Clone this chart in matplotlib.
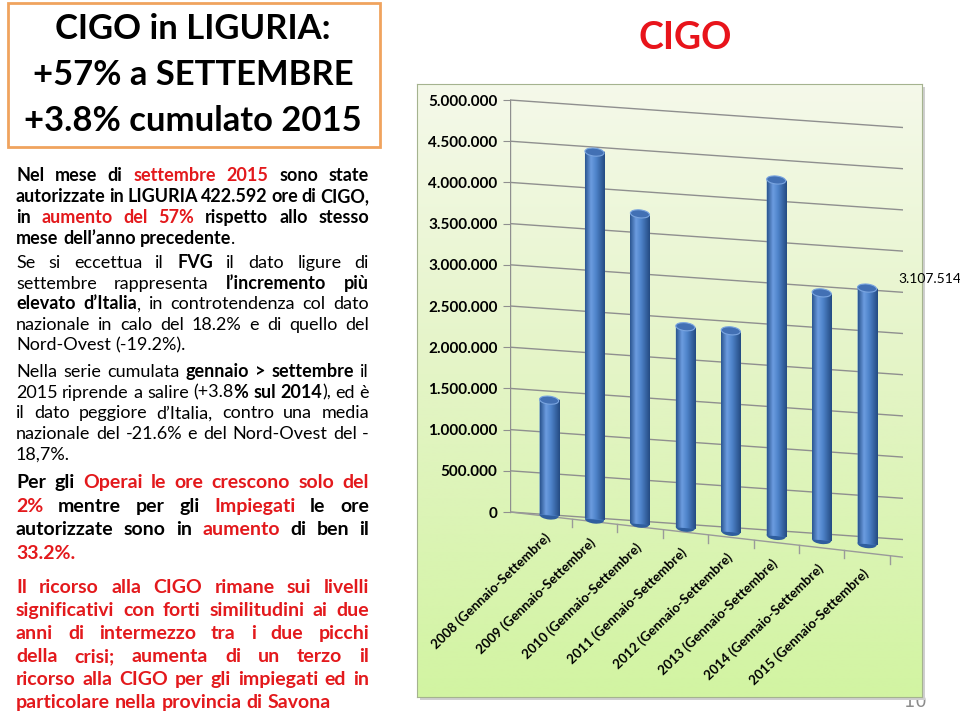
import re
import numpy as np
import matplotlib
matplotlib.use('Agg')
import matplotlib.pyplot as plt
from matplotlib.colors import LinearSegmentedColormap
from matplotlib.patches import Rectangle, Ellipse
from matplotlib.transforms import Affine2D
from matplotlib.ticker import FuncFormatter

FONT = 'Lato'
RED = '#e3191c'

# data (ore CIGO autorizzate, gennaio-settembre)
anni = ['2008', '2009', '2010', '2011', '2012', '2013', '2014', '2015']
categorie = [a + ' (Gennaio-Settembre)' for a in anni]
ore_cigo = [1400000, 4460000, 3760000, 2440000, 2440000, 4320000, 3000000, 3107514]
ytick_vals = list(range(0, 5000001, 500000))

titolo = ['CIGO in LIGURIA:', '+57% a SETTEMBRE', '+3.8% cumulato 2015']

# <b> bold, <r> red ; state carries across the lines of a paragraph
par1 = ['<b>Nel mese di <r>settembre 2015</r> sono state',
        'autorizzate in LIGURIA 422.592 ore di CIGO,',
        'in <r>aumento del 57%</r> rispetto allo stesso',
        'mese dell\u2019anno precedente</b>.']
par2 = ['Se si eccettua il <b>FVG</b> il dato ligure di',
        'settembre rappresenta <b>l\u2019incremento più',
        'elevato d\u2019Italia</b>, in controtendenza col dato',
        'nazionale in calo del 18.2% e di quello del',
        'Nord-Ovest (-19.2%).']
par3 = ['Nella serie cumulata <b>gennaio > settembre</b> il',
        '2015 riprende a salire (+3.8<b>% sul 2014</b>), ed è',
        'il dato peggiore d\u2019Italia, contro una media',
        'nazionale del -21.6% e del Nord-Ovest del -',
        '18,7%.']
par4 = ['<b>Per gli <r>Operai le ore crescono solo del',
        '2%</r> mentre per gli <r>Impiegati</r> le ore',
        'autorizzate sono in <r>aumento</r> di ben il',
        '<r>33.2%.</r>']
par5 = ['<b><r>Il ricorso alla CIGO rimane sui livelli',
        'significativi con forti similitudini ai due',
        'anni di intermezzo tra i due picchi',
        'della crisi; aumenta di un terzo il',
        'ricorso alla CIGO per gli impiegati ed in',
        'particolare nella provincia di Savona']

W, H = 960, 713
fig = plt.figure(figsize=(W / 100, H / 100), dpi=100)
renderer = fig.canvas.get_renderer()


def fx(x):
    return x / W


def fy(y):
    return 1 - y / H


def text_w(s, size, bold):
    t = fig.text(0, 0, s, fontsize=size, fontweight='bold' if bold else 'normal', family=FONT)
    w = t.get_window_extent(renderer).width
    t.remove()
    return w


def parse(lines):
    bold, red = False, False
    out = []
    for line in lines:
        words = [[]]
        for part in re.split(r'(</?[br]>)', line):
            if part in ('<b>', '</b>'):
                bold = part == '<b>'
                continue
            if part in ('<r>', '</r>'):
                red = part == '<r>'
                continue
            for j, p in enumerate(part.split(' ')):
                if j > 0:
                    words.append([])
                if p:
                    words[-1].append((p, bold, red))
        out.append([w for w in words if w])
    return out


# justified paragraph; spaces may shrink a bit so the font can stay near the target size
def paragrafo(lines, y0, step, target, x0=16, x1=369):
    righe = parse(lines)
    width = x1 - x0
    sp10 = text_w('a a', 10, False) - text_w('aa', 10, False)
    need = max(sum(text_w(s, 10, b) for w in ws for s, b, r in w) + 0.65 * sp10 * (len(ws) - 1)
               for ws in righe[:-1])
    size = min(target, 10 * width / need)
    sp = sp10 * size / 10
    for i, ws in enumerate(righe):
        wl = [[text_w(s, size, b) for s, b, r in w] for w in ws]
        tot = sum(sum(a) for a in wl)
        gap = sp if i == len(righe) - 1 else (width - tot) / (len(ws) - 1)
        x = x0
        y = y0 + i * step
        for w, ww in zip(ws, wl):
            for (s, b, r), sw in zip(w, ww):
                fig.text(fx(x), fy(y), s, fontsize=size, fontweight='bold' if b else 'normal',
                         color=RED if r else 'black', family=FONT, va='baseline', ha='left')
                x += sw
            x += gap


# ---- left side: title box and text
fig.patches.append(Rectangle((fx(8), fy(147)), 372 / W, 144 / H, transform=fig.transFigure,
                             fill=False, ec='#f0a35e', lw=2))
tsize = 10 * 338 / max(text_w(t, 10, True) for t in titolo)
for i, t in enumerate(titolo):
    fig.text(fx(193), fy(39 + i * 45.8), t, fontsize=tsize, fontweight='bold', family=FONT,
             ha='center', va='baseline')

paragrafo(par1, 181, 21, 13)
paragrafo(par2, 268, 20.6, 13)
paragrafo(par3, 377, 20.6, 13)
paragrafo(par4, 488, 23.6, 14)
paragrafo(par5, 593, 23, 14)

# ---- right side: chart
fig.text(fx(685), fy(49), 'CIGO', fontsize=27, fontweight='bold', color='#e8141b',
         family=FONT, ha='center', va='baseline')
fig.text(fx(915), fy(707), '10', fontsize=13, color='#8c8c8c', ha='center', va='baseline',
         zorder=-3)

fig.patches.append(Rectangle((fx(420), fy(700)), 505 / W, 613 / H, transform=fig.transFigure,
                             fc='#cfcfcf', ec='none', zorder=-2))
bg = fig.add_axes([fx(417), fy(697), 505 / W, 613 / H], zorder=-1)
green = LinearSegmentedColormap.from_list('g', ['#f5f9ea', '#e3f4c4', '#d2f4a2'])
bg.imshow(np.linspace(0, 1, 256).reshape(-1, 1), cmap=green, aspect='auto', extent=[0, 1, 0, 1])
bg.set_xticks([])
bg.set_yticks([])
for s in bg.spines.values():
    s.set_color('#a5b38f')

PX0, PX5 = 512, 100          # pixel rows of 0 and 5.000.000
AX_TOP, AX_BOT = 90, 585
AX_L, AX_R = 510, 903
upp = 5e6 / (PX0 - PX5)
ax = fig.add_axes([fx(AX_L), fy(AX_BOT), (AX_R - AX_L) / W, (AX_BOT - AX_TOP) / H])
ax.patch.set_alpha(0)
ax.autoscale(False)
xmin, xmax = -0.86, 7.79
ax.set_xlim(xmin, xmax)
ax.set_ylim(-(AX_BOT - PX0) * upp, 5e6 + (PX5 - AX_TOP) * upp)
for s in ax.spines.values():
    s.set_visible(False)


# fake perspective: things shift down to the right
def skew(k):
    m = np.array([[1, 0, 0], [-k, 1, k * AX_L], [0, 0, 1]], dtype=float)
    return ax.transData + Affine2D(m)


t_grid, t_bar, t_lab = skew(0.07), skew(0.09), skew(0.115)

for v in ytick_vals:
    ax.plot([xmin, xmax], [v, v], color='#8f8f8f', lw=1, transform=t_grid, zorder=1)
ax.plot([xmin, xmin], [0, 5e6], color='#8f8f8f', lw=1, zorder=1)
# floor front edge and ticks
ax.plot([xmin, xmax, xmax], [0, 0, 0], color='#9a9a9a', lw=1, transform=t_lab, zorder=1)
for i in range(len(anni)):
    ax.plot([i + 0.5, i + 0.5], [0, -8 * upp], color='#9a9a9a', lw=1, transform=t_lab, zorder=1)

ax.set_yticks(ytick_vals)
ax.yaxis.set_major_formatter(FuncFormatter(lambda v, p: f'{int(v):,}'.replace(',', '.')))
ax.tick_params(axis='y', length=5, color='#8f8f8f', pad=4)
for lab in ax.get_yticklabels():
    lab.set_fontweight('bold')
    lab.set_fontsize(11)
    lab.set_family(FONT)
ax.set_xticks([])

cyl = LinearSegmentedColormap.from_list('c', [(0, '#2b5690'), (0.3, '#6c9ce0'),
                                              (0.55, '#4f84cb'), (1, '#244b82')])
bw = 0.42
cap = 8 * upp
grad = np.linspace(0, 1, 64).reshape(1, -1)
bars = ax.bar(range(len(anni)), ore_cigo, width=bw, color='#4a7ec4', zorder=3)
for i, (b, v) in enumerate(zip(bars, ore_cigo)):
    b.set_transform(t_bar)
    ax.add_patch(Ellipse((i, 0), bw, cap, transform=t_bar, fc='#2f5e9e', ec='none', zorder=2.9))
    im = ax.imshow(grad, cmap=cyl, extent=[i - bw / 2, i + bw / 2, 0, v], aspect='auto',
                   interpolation='bilinear', zorder=3.1)
    im.set_transform(t_bar)
    im.set_clip_path(b)
    ax.add_patch(Ellipse((i, v), bw, cap, transform=t_bar, fc='#4270b4', ec='#7aa5e0',
                         lw=0.8, zorder=3.2))
    ax.annotate(categorie[i], xy=(i, 0), xycoords=t_lab, xytext=(-5, -14),
                textcoords='offset pixels', rotation=44, rotation_mode='anchor',
                ha='right', va='top', fontsize=9.6, fontweight='bold', family=FONT)

ax.annotate(f'{ore_cigo[-1]:,}'.replace(',', '.'), xy=(7, ore_cigo[-1]), xycoords=t_bar,
            xytext=(63, 9), textcoords='offset pixels', ha='center', va='center',
            fontsize=10, family=FONT)
ax.set_xlim(xmin, xmax)
ax.set_ylim(-(AX_BOT - PX0) * upp, 5e6 + (PX5 - AX_TOP) * upp)

fig.savefig('out.png', dpi=100)
